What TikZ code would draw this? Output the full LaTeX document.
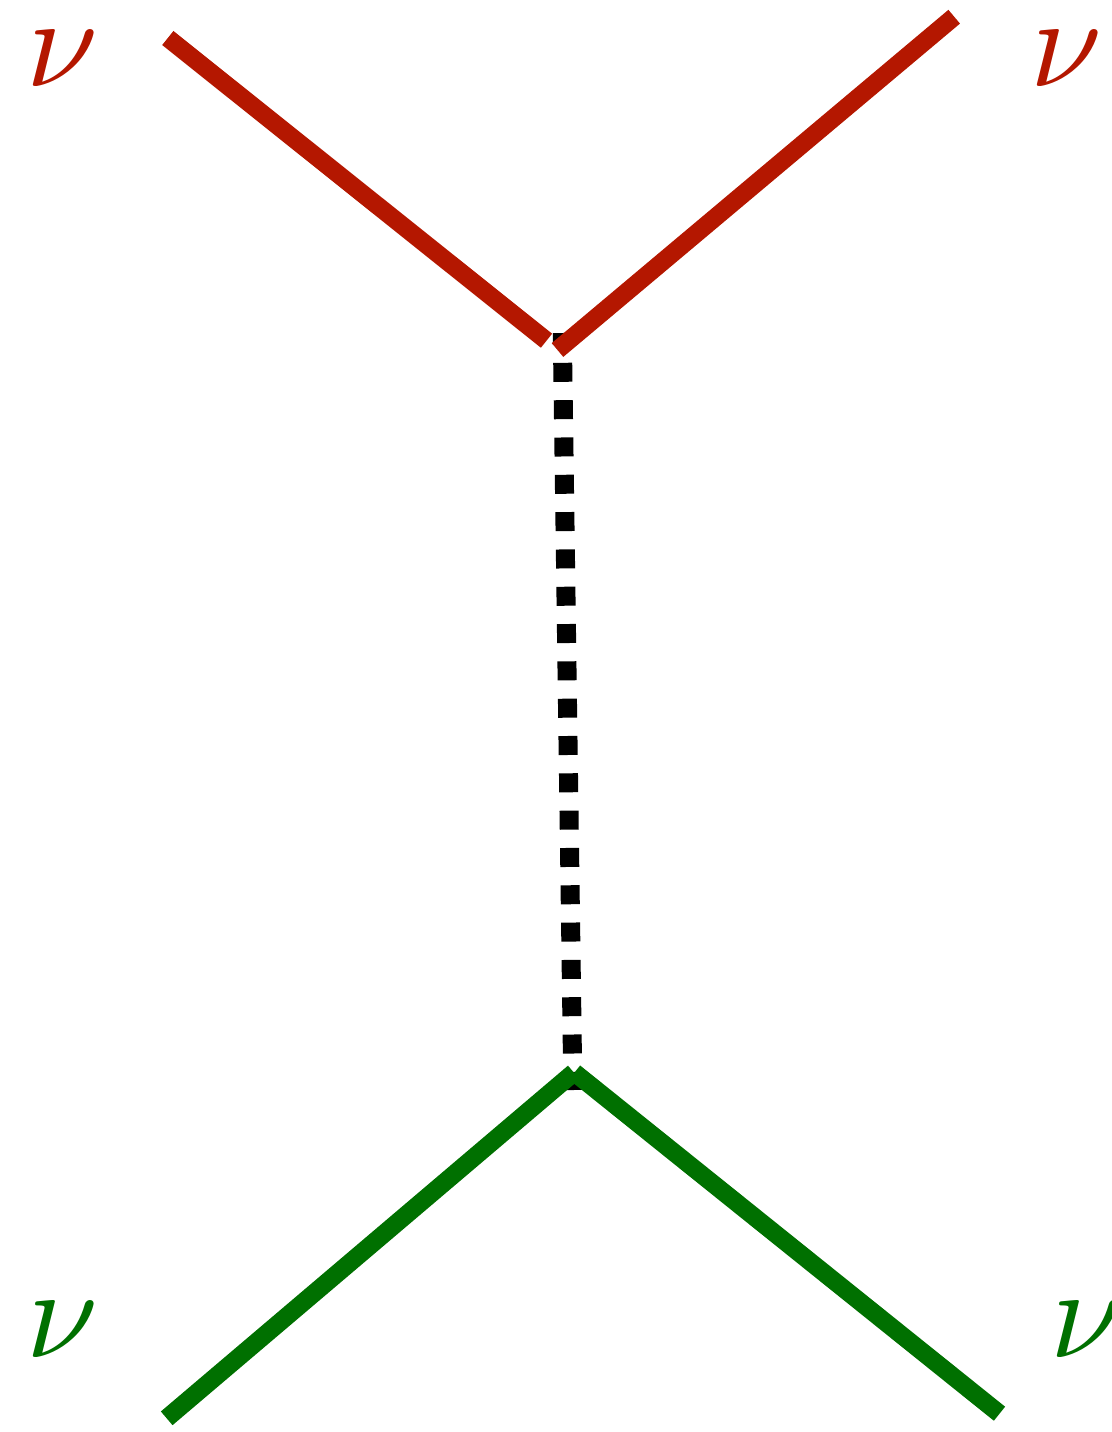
\documentclass[tikz,border=0pt]{standalone}
\usepackage{graphicx}
\definecolor{nured}{RGB}{180,23,0}
\definecolor{nugreen}{RGB}{0,112,0}
\newcommand{\nusym}{\scalebox{6.45}{\fontsize{10}{10}\selectfont$\nu$}}
\tikzset{
  fermion/.style={line width=9pt, line cap=butt},
  boson/.style={line width=9.5pt, line cap=butt, dash pattern=on 9.5pt off 9.16pt, dash phase=3.75pt},
  nulabel/.style={inner sep=0pt}
}
\begin{document}
\begin{tikzpicture}[x=0.5pt,y=-0.5pt]
\useasboundingbox (0,0) rectangle (1112,1432);
% endpoints
\coordinate (a1) at (167.8,38);
\coordinate (a2) at (546.5,340.7);
\coordinate (b1) at (557.5,350);
\coordinate (b2) at (954.2,16.7);
\coordinate (c1) at (562.3,333);
\coordinate (c2) at (572.9,1090);
\coordinate (d1) at (166.7,1418.3);
\coordinate (d2) at (573.8,1072.5);
\coordinate (e1) at (574.5,1072.5);
\coordinate (e2) at (999.5,1413.7);
% labels
\node[nulabel, text=nured] (ltl) at (62,59) {\nusym};
\node[nulabel, text=nured] (ltr) at (1066,59) {\nusym};
\node[nulabel, text=nugreen] (lbl) at (62,1329.5) {\nusym};
\node[nulabel, text=nugreen] (lbr) at (1086.5,1329.5) {\nusym};
% propagator
\draw[boson] (c1) -- (c2);
% fermion lines
\draw[fermion, nured] (a1) -- (a2);
\draw[fermion, nured] (b1) -- (b2);
\draw[fermion, nugreen] (d1) -- (d2);
\draw[fermion, nugreen] (e1) -- (e2);
\end{tikzpicture}
\end{document}
